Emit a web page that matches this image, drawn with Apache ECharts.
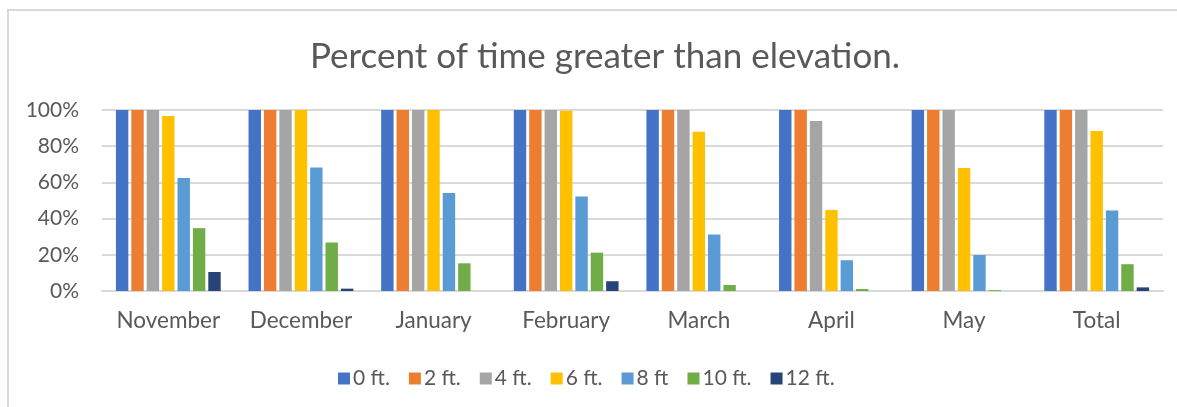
<!DOCTYPE html>
<html>
<head>
<meta charset="utf-8">
<script src="https://cdn.jsdelivr.net/npm/echarts@6/dist/echarts.min.js"></script>
<style>
  html, body { margin: 0; padding: 0; background: #fff; }
  #chart { width: 1177px; height: 407px; }
</style>
</head>
<body>
<div id="chart"></div>
<script>
// Months on the category axis
const months = ['November', 'December', 'January', 'February', 'March', 'April', 'May', 'Total'];

// Share of time the water stands above each elevation (fraction of 1)
const ft0  = [1.00, 1.00, 1.00, 1.00, 1.00, 1.00, 1.00, 1.00];
const ft2  = [1.00, 1.00, 1.00, 1.00, 1.00, 1.00, 1.00, 1.00];
const ft4  = [1.00, 1.00, 1.00, 1.00, 1.00, 0.939, 1.00, 1.00];
const ft6  = [0.967, 1.00, 1.00, 0.996, 0.88, 0.448, 0.679, 0.884];
const ft8  = [0.625, 0.683, 0.542, 0.522, 0.312, 0.17, 0.199, 0.445];
const ft10 = [0.347, 0.268, 0.153, 0.212, 0.033, 0.011, 0.005, 0.148];
const ft12 = [0.105, 0.013, 0, 0.054, 0, 0, 0, 0.02];

const seriesNames = ['0 ft.', '2 ft.', '4 ft.', '6 ft.', '8 ft', '10 ft.', '12 ft.'];
const seriesData = [ft0, ft2, ft4, ft6, ft8, ft10, ft12];
const palette = ['#4472C4', '#ED7D31', '#A5A5A5', '#FFC000', '#5B9BD5', '#70AD47', '#264478'];

const yTicks = [0, 0.2, 0.4, 0.6, 0.8, 1.0];

const FONT = 'Lato';
const TEXT = '#595959';
const GRID = '#D9D9D9';

const chart = echarts.init(document.getElementById('chart'), null, { renderer: 'canvas' });

chart.setOption({
  animation: false,
  backgroundColor: '#fff',
  color: palette,
  textStyle: { fontFamily: FONT, color: TEXT },
  title: {
    text: 'Percent of time greater than elevation.',
    left: 600,
    textAlign: 'center',
    top: 34,
    textStyle: { fontFamily: FONT, fontSize: 35, fontWeight: 'normal', color: TEXT }
  },
  legend: {
    data: seriesNames,
    left: 333,
    top: 363,
    itemWidth: 12,
    itemHeight: 12,
    itemGap: 19,
    icon: 'rect',
    textStyle: { fontFamily: FONT, fontSize: 21, color: TEXT, padding: [0, 0, 0, -2] }
  },
  grid: { left: 102, right: 14, top: 110, bottom: 116, containLabel: false },
  xAxis: {
    type: 'category',
    data: months,
    axisLine: { lineStyle: { color: GRID, width: 2 } },
    axisTick: { show: false },
    axisLabel: { fontFamily: FONT, fontSize: 22.5, color: TEXT, margin: 18, interval: 0 }
  },
  yAxis: {
    type: 'value',
    min: yTicks[0],
    max: yTicks[yTicks.length - 1],
    interval: 0.2,
    axisLine: { show: false },
    axisTick: { show: false },
    splitLine: { lineStyle: { color: GRID, width: 2 } },
    axisLabel: {
      fontFamily: FONT, fontSize: 21, color: TEXT, margin: 23,
      formatter: v => Math.round(v * 100) + '%'
    }
  },
  graphic: [{
    type: 'rect',
    shape: { x: 8, y: 10, width: 1300, height: 600 },
    style: { fill: 'none', stroke: GRID, lineWidth: 2 },
    silent: true,
    z: -1
  }],
  series: seriesNames.map((name, i) => ({
    name,
    type: 'bar',
    data: seriesData[i],
    barGap: '24%',
    barCategoryGap: '21%',
    itemStyle: { color: palette[i] }
  }))
});
</script>
</body>
</html>
